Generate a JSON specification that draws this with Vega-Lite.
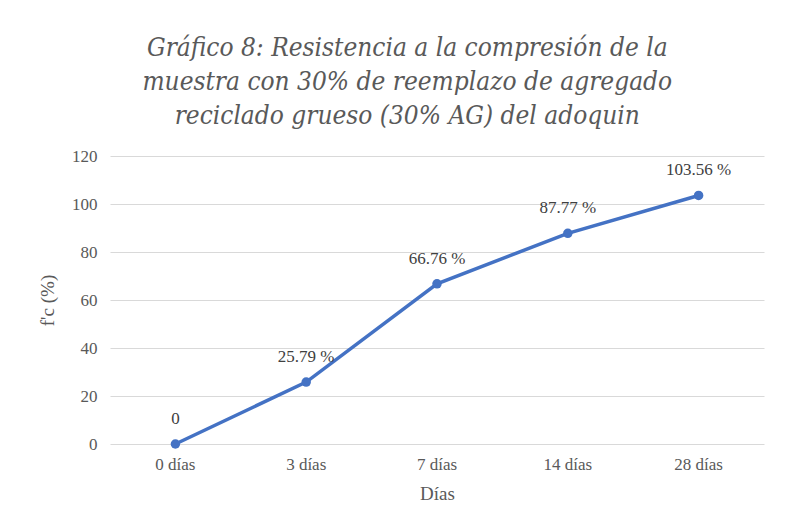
{
  "$schema": "https://vega.github.io/schema/vega-lite/v6.json",
  "width": 654,
  "height": 288,
  "padding": {"left": 38, "top": 35, "right": 22, "bottom": 18},
  "background": "white",
  "config": {
    "view": {"stroke": null},
    "font": "Liberation Serif"
  },
  "title": {
    "text": ["Gráfico 8: Resistencia a la compresión de la", "muestra con 30% de reemplazo de agregado", "reciclado grueso (30% AG) del adoquin"],
    "font": "DejaVu Serif Condensed, DejaVu Serif",
    "fontStyle": "italic",
    "fontWeight": "normal",
    "fontSize": 26,
    "lineHeight": 34,
    "color": "#595959",
    "anchor": "middle",
    "frame": "bounds",
    "dx": 6,
    "offset": 18
  },
  "data": {
    "values": [
      {"dia": "0 días", "fc": 0, "label": "0"},
      {"dia": "3 días", "fc": 25.79, "label": "25.79 %"},
      {"dia": "7 días", "fc": 66.76, "label": "66.76 %"},
      {"dia": "14 días", "fc": 87.77, "label": "87.77 %"},
      {"dia": "28 días", "fc": 103.56, "label": "103.56 %"}
    ]
  },
  "encoding": {
    "x": {
      "field": "dia",
      "type": "ordinal",
      "sort": null,
      "scale": {"type": "band", "paddingInner": 0, "paddingOuter": 0},
      "axis": {
        "title": "Días",
        "labelAngle": 0,
        "labelFont": "Liberation Serif",
        "labelFontSize": 17,
        "labelColor": "#595959",
        "labelPadding": 12,
        "titleFont": "Liberation Serif",
        "titleFontSize": 19,
        "titleFontWeight": "normal",
        "titleColor": "#595959",
        "titlePadding": 12,
        "domain": false,
        "ticks": false,
        "grid": false
      }
    },
    "y": {
      "field": "fc",
      "type": "quantitative",
      "scale": {"domain": [0, 120]},
      "axis": {
        "title": "f'c (%)",
        "values": [0, 20, 40, 60, 80, 100, 120],
        "labelFont": "Liberation Serif",
        "labelFontSize": 17,
        "labelColor": "#595959",
        "labelPadding": 13,
        "titleFont": "Liberation Serif",
        "titleFontSize": 19,
        "titleFontWeight": "normal",
        "titleColor": "#595959",
        "titlePadding": 14,
        "domain": false,
        "ticks": false,
        "grid": true,
        "gridColor": "#d9d9d9",
        "gridWidth": 1
      }
    }
  },
  "layer": [
    {
      "mark": {"type": "line", "color": "#4472C4", "strokeWidth": 3.5, "point": {"filled": true, "color": "#4472C4", "size": 90}}
    },
    {
      "mark": {"type": "text", "dy": -25, "font": "Liberation Serif", "fontSize": 17, "color": "#404040"},
      "encoding": {"text": {"field": "label"}}
    }
  ]
}
